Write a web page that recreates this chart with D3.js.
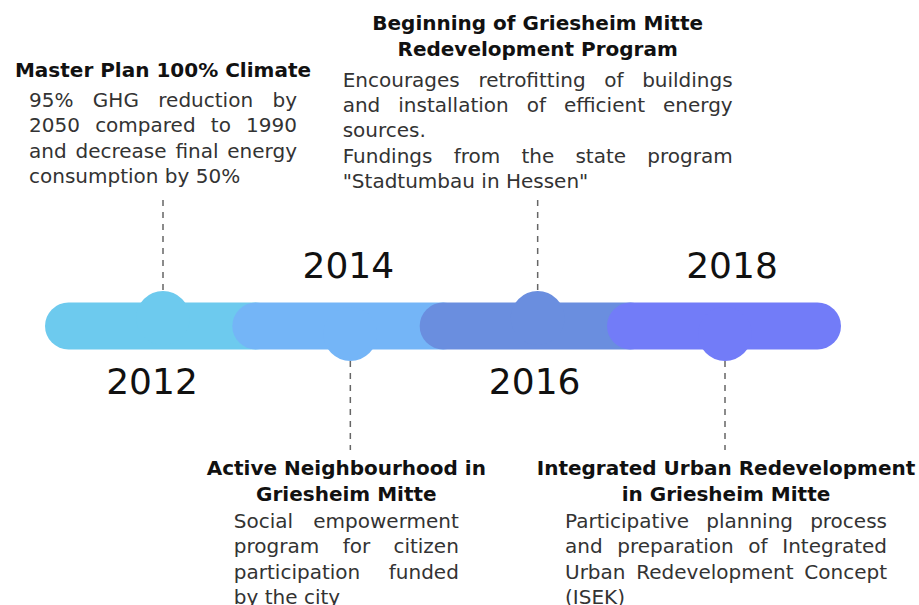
<!DOCTYPE html>
<html>
<head>
<meta charset="utf-8">
<script src="https://cdn.jsdelivr.net/npm/d3@7"></script>
<style>
  body { margin: 0; background: #fff; }
  text { font-family: "DejaVu Sans", sans-serif; }
</style>
</head>
<body>
<div id="chart"></div>
<script>
const years = [2012, 2014, 2016, 2018];
const colors = ["#6dcaee", "#74b5f7", "#6a8edf", "#727cf8"];
const titles = [
  ["Master Plan 100% Climate"],
  ["Active Neighbourhood in", "Griesheim Mitte"],
  ["Beginning of Griesheim Mitte", "Redevelopment Program"],
  ["Integrated Urban Redevelopment", "in Griesheim Mitte"]
];
// paragraphs, broken into lines as in the original
const descriptions = [
  [["95% GHG reduction by", "2050 compared to 1990", "and decrease final energy", "consumption by 50%"]],
  [["Social empowerment", "program for citizen", "participation funded", "by the city"]],
  [["Encourages retrofitting of buildings", "and installation of efficient energy", "sources."],
   ["Fundings from the state program", "\"Stadtumbau in Hessen\""]],
  [["Participative planning process", "and preparation of Integrated", "Urban Redevelopment Concept", "(ISEK)"]]
];

const width = 919, height = 605;
const barY = 326, barH = 47, bumpR = 27;

// layout of the text boxes
const boxWidths = [268, 225, 390, 322];
const boxShift = [0, -4, 0, 1];
const boxAnchor = [183, 475, 188, 475]; // last baseline (top boxes) / first baseline (bottom boxes)
const labelShift = [-11, -2, -3, 7];

const svg = d3.select('#chart').append('svg')
  .attr('width', width)
  .attr('height', height);

// scale
const x = d3.scaleLinear().domain([2012, 2018]).range([163, 725]);

const events = years.map((year, i) => ({
  year, i, color: colors[i], title: titles[i], desc: descriptions[i], top: i % 2 === 0
}));

// timeline segments, each one painted over the previous one
const seg = svg.selectAll('g.seg')
  .data(events)
  .enter()
  .append('g')
  .attr('class', 'seg');

seg.append('line')
  .attr('x1', d => x(d.year) - 118 + barH / 2)
  .attr('x2', d => x(d.year) + 116 - barH / 2)
  .attr('y1', barY)
  .attr('y2', barY)
  .attr('stroke', d => d.color)
  .attr('stroke-width', barH)
  .attr('stroke-linecap', 'round');

seg.append('circle')
  .attr('cx', d => x(d.year))
  .attr('cy', d => d.top ? barY - 8 : barY + 8)
  .attr('r', bumpR)
  .attr('fill', d => d.color);

// dashed connectors
svg.selectAll('line.conn')
  .data(events)
  .enter()
  .append('line')
  .attr('class', 'conn')
  .attr('x1', d => x(d.year))
  .attr('x2', d => x(d.year))
  .attr('y1', d => d.top ? 200 : 361)
  .attr('y2', d => d.top ? barY - 8 - bumpR : 450)
  .attr('stroke', '#666')
  .attr('stroke-width', 1.5)
  .attr('stroke-dasharray', '6,6');

// year labels
svg.selectAll('text.year')
  .data(events)
  .enter()
  .append('text')
  .attr('class', 'year')
  .attr('x', d => x(d.year) + labelShift[d.i])
  .attr('y', d => d.top ? 394 : 278)
  .attr('text-anchor', 'middle')
  .attr('font-size', 36)
  .attr('fill', '#111')
  .text(d => d.year);

// justified line of text: spread words over the full width
function textLine(g, line, x0, w, y, justify) {
  const t = g.append('text')
    .attr('y', y)
    .attr('font-size', 20)
    .attr('fill', '#333');
  const words = line.split(' ');
  if (!justify || words.length < 2) {
    t.attr('x', x0).text(line);
    return;
  }
  const spans = words.map(wd => t.append('tspan').text(wd));
  const lens = spans.map(s => s.node().getComputedTextLength());
  const gap = (w - d3.sum(lens)) / (words.length - 1);
  let cx = x0;
  spans.forEach((s, k) => {
    s.attr('x', cx);
    cx += lens[k] + gap;
  });
}

const titleLH = 26, bodyLH = 25.3;

events.forEach(d => {
  const g = svg.append('g');
  const cx = x(d.year) + boxShift[d.i];
  const w = boxWidths[d.i];
  const gapTB = d.top ? 30.5 : 27;
  const nBody = d3.sum(d.desc, p => p.length);
  let y;
  if (d.top) {
    y = boxAnchor[d.i] - (nBody - 1) * bodyLH - gapTB - (d.title.length - 1) * titleLH;
  } else {
    y = boxAnchor[d.i];
  }
  d.title.forEach((tl, k) => {
    g.append('text')
      .attr('x', cx)
      .attr('y', y + k * titleLH)
      .attr('text-anchor', 'middle')
      .attr('font-size', 20)
      .attr('font-weight', 'bold')
      .attr('fill', '#111')
      .text(tl);
  });
  y += (d.title.length - 1) * titleLH + gapTB;
  d.desc.forEach(par => {
    par.forEach((line, k) => {
      textLine(g, line, cx - w / 2, w, y, k < par.length - 1);
      y += bodyLH;
    });
  });
});
</script>
</body>
</html>
